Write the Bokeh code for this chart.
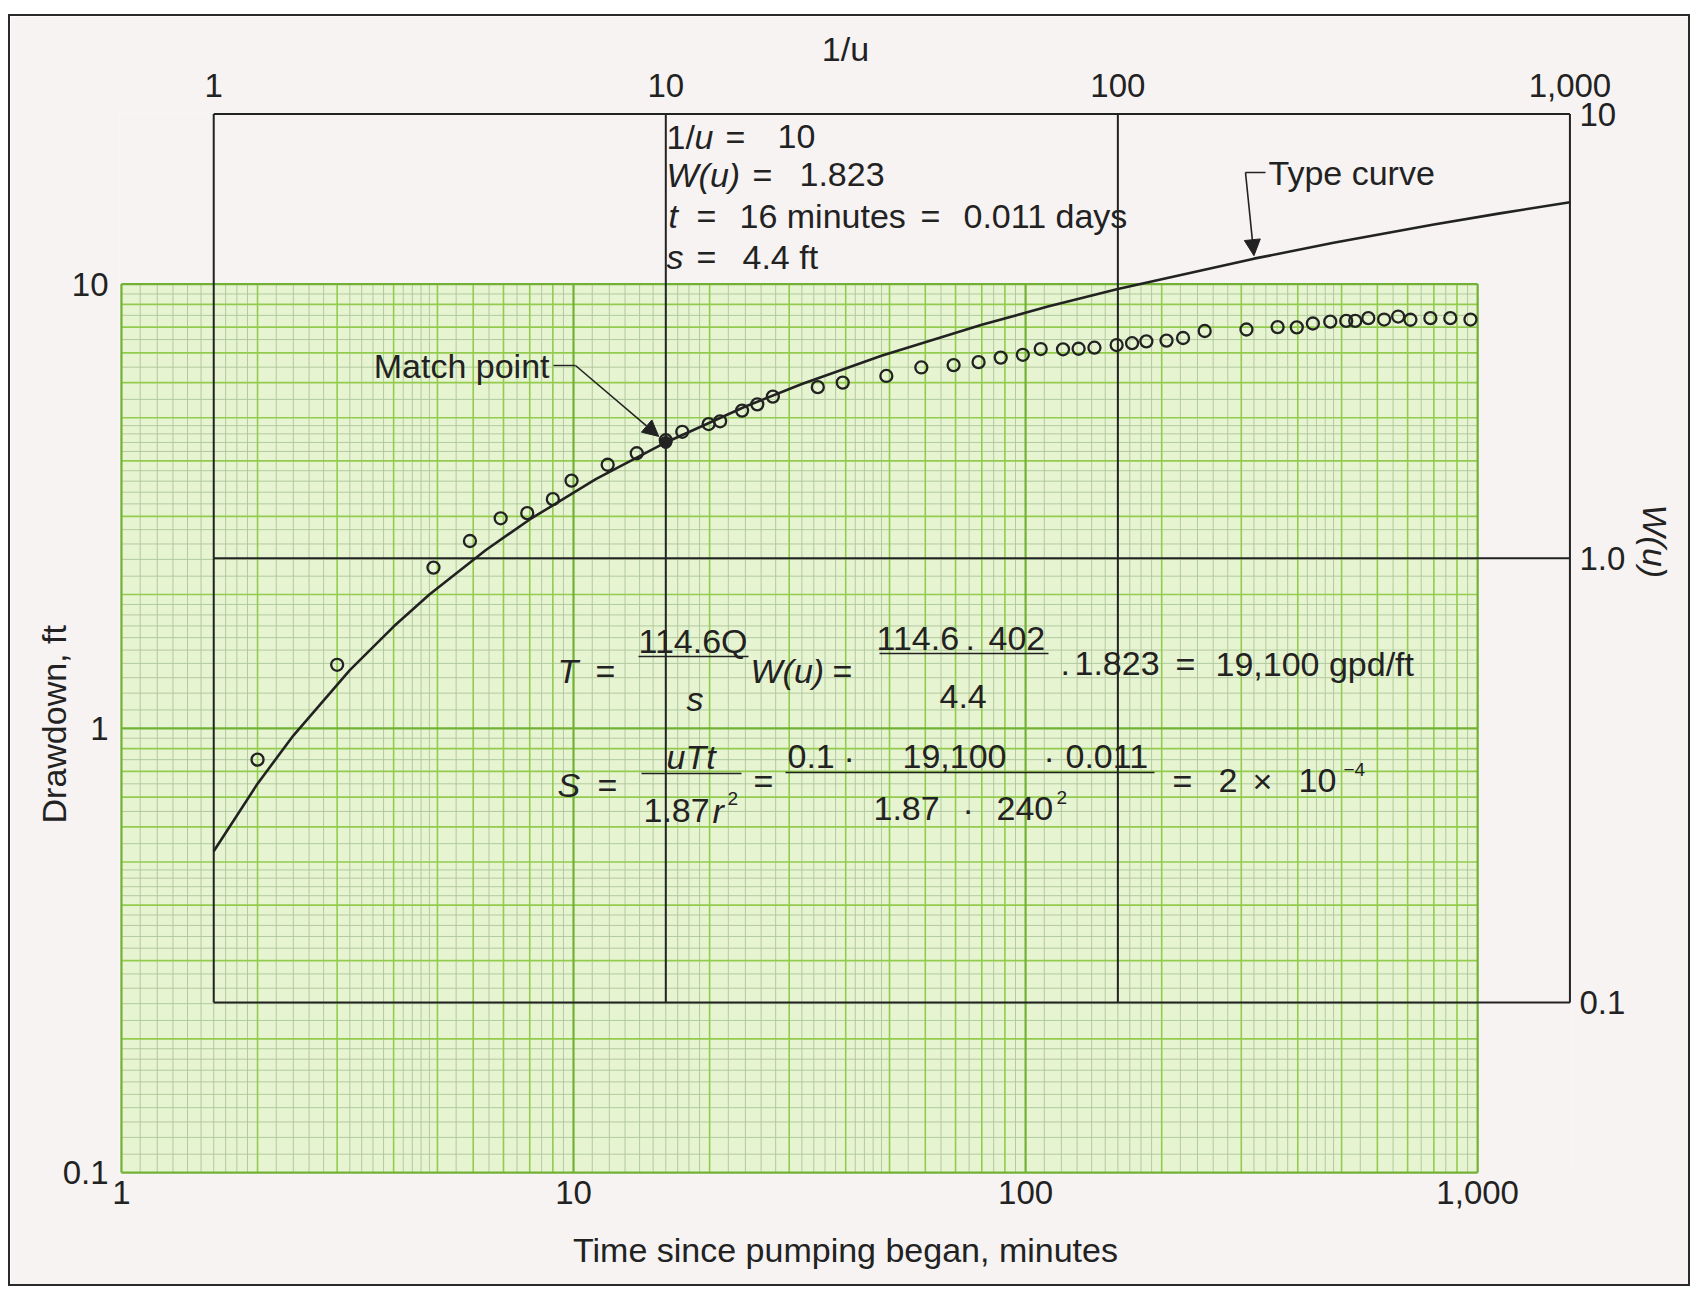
import math
from bokeh.plotting import figure
from bokeh.models import (Range1d, LogScale, LogAxis, FixedTicker, Arrow, NormalHead,
                          CustomJSTickFormatter, Title)
from bokeh.embed import file_html
from bokeh.resources import INLINE
from bokeh.core.properties import value

# ---------------- data ----------------
# observed drawdown vs time (open circles)
time_min = [2.0, 3.0, 4.9, 5.9, 6.9, 7.9, 9.0, 9.9, 11.9, 13.8,
            16.0, 17.4, 19.9, 21.1, 23.6, 25.5, 27.6,
            34.7, 39.4, 49.2, 58.8, 69.3, 78.7, 88.1, 98.6,
            108, 121, 131, 142, 159, 172, 185, 205, 223,
            249, 308, 361, 398, 432, 472, 512, 536, 573, 621, 667, 710, 786, 870, 964]
drawdown_ft = [0.85, 1.39, 2.30, 2.64, 2.97, 3.05, 3.28, 3.61, 3.92, 4.16,
               4.45, 4.65, 4.84, 4.91, 5.19, 5.36, 5.58,
               5.86, 6.00, 6.21, 6.49, 6.57, 6.67, 6.83, 6.93,
               7.14, 7.13, 7.15, 7.19, 7.29, 7.36, 7.43, 7.46, 7.56,
               7.84, 7.90, 8.00, 7.99, 8.15, 8.23, 8.26, 8.26, 8.38, 8.32, 8.45, 8.31, 8.38, 8.38, 8.32]

# Theis type curve (table of W(u) against 1/u)
inv_u = [1, 1.25, 1.5, 2, 2.5, 3, 4, 5, 7, 10, 15, 20, 30, 50, 70, 100, 200, 300, 500, 700, 1000]
w_u = [0.219, 0.311, 0.399, 0.560, 0.702, 0.829, 1.044, 1.223, 1.507, 1.823, 2.196, 2.468,
       2.857, 3.355, 3.686, 4.038, 4.726, 5.130, 5.639, 5.975, 6.332]

# match point
match_inv_u, match_w = 10, 1.823
match_t, match_s = 16, 4.4

# axes ticks / labels
time_ticks = [1, 10, 100, 1000]
time_labels = ["1", "10", "100", "1,000"]
dd_ticks = [0.1, 1, 10]
dd_labels = ["0.1", "1", "10"]
invu_ticks = [1, 10, 100, 1000]
invu_labels = ["1", "10", "100", "1,000"]
w_ticks = [0.1, 1, 10]
w_labels = ["0.1", "1.0", "10"]

# ---------------- layout ----------------
FONT = "Liberation Sans"
INK = "#222222"
BG = "#f6f3f2"
MARGIN_L, MARGIN_T, BORDER = 8, 14, 2
W_FIG, H_FIG = 1682, 1272
B_L, B_R, B_T, B_B = 109, 121, 96, 114
PX_OFF = MARGIN_L + BORDER
PY_OFF = MARGIN_T + BORDER
TXT = 34

RT = match_t / match_inv_u     # t per 1/u
RS = match_s / match_w         # s per W

x_lo, x_hi = time_ticks[0] / 1.01, invu_ticks[-1] * RT * 1.008
y_lo, y_hi = dd_ticks[0] / 1.01, w_ticks[-1] * RS * 1.008

p = figure(width=W_FIG, height=H_FIG, x_axis_type="log", y_axis_type="log",
           x_range=Range1d(x_lo, x_hi), y_range=Range1d(y_lo, y_hi),
           output_backend="svg", toolbar_location=None,
           min_border_left=B_L, min_border_right=B_R, min_border_top=B_T, min_border_bottom=B_B,
           background_fill_color=BG, border_fill_color=BG, outline_line_color=None)
p.styles = {"border": f"{BORDER}px solid #2a2a2a",
            "margin-left": f"{MARGIN_L}px", "margin-top": f"{MARGIN_T}px"}
p.extra_x_ranges = {"invu": Range1d(x_lo / RT, x_hi / RT)}
p.extra_y_ranges = {"w": Range1d(y_lo / RS, y_hi / RS)}
p.extra_x_scales = {"invu": LogScale()}
p.extra_y_scales = {"w": LogScale()}
p.grid.visible = False


def fmt(tick_vals, tick_labels):
    return CustomJSTickFormatter(args=dict(tv=tick_vals, tl=tick_labels), code="""
        for (let i = 0; i < tv.length; i++) {
            if (Math.abs(Math.log10(tv[i]) - Math.log10(tick)) < 1e-6) return tl[i];
        }
        return "";
    """)


def style_axis(ax, tick_vals, tick_labels, standoff, label_standoff):
    ax.ticker = FixedTicker(ticks=tick_vals, minor_ticks=[])
    ax.formatter = fmt(tick_vals, tick_labels)
    ax.axis_line_color = None
    ax.major_tick_line_color = None
    ax.minor_tick_line_color = None
    ax.major_tick_in = 0
    ax.major_tick_out = 0
    ax.major_label_standoff = standoff
    ax.major_label_text_font = FONT
    ax.major_label_text_font_size = "33px"
    ax.major_label_text_color = INK
    ax.axis_label_text_font = FONT
    ax.axis_label_text_font_size = f"{TXT}px"
    ax.axis_label_text_font_style = "normal"
    ax.axis_label_text_color = INK
    ax.axis_label_standoff = label_standoff


xb = p.xaxis[0]
xb.axis_label = "Time since pumping began, minutes"
style_axis(xb, time_ticks, time_labels, 6, 24)

yl = p.yaxis[0]
style_axis(yl, dd_ticks, dd_labels, 11, 0)

xt = LogAxis(x_range_name="invu", axis_label="1/u")
style_axis(xt, invu_ticks, invu_labels, 16, 3)
p.add_layout(xt, "above")

yr = LogAxis(y_range_name="w")
style_axis(yr, w_ticks, w_labels, 8, 0)
p.add_layout(yr, "right")

# side titles for the vertical axes, placed where the original puts them
FRAME_TOP = PY_OFF + B_T
FRAME_BOTTOM = PY_OFF + H_FIG - B_B
p.add_layout(Title(text="Drawdown, ft", align="left", offset=FRAME_BOTTOM - 823,
                   standoff=-26, text_font=FONT, text_font_size=f"{TXT}px",
                   text_font_style="normal", text_color=INK), "left")
p.add_layout(Title(text="W(u)", align="left", offset=504 - FRAME_TOP,
                   standoff=14, text_font=FONT, text_font_size=f"{TXT}px",
                   text_font_style="italic", text_color=INK), "right")

# ---------------- pixel helpers for annotation placement ----------------
fx_span = math.log10(x_hi) - math.log10(x_lo)
fy_span = math.log10(y_hi) - math.log10(y_lo)
FW = W_FIG - B_L - B_R
FH = H_FIG - B_T - B_B


def at(px, py):
    fx = (px - PX_OFF - B_L) / FW
    fy = (py - PY_OFF - B_T) / FH
    return (10 ** (math.log10(x_lo) + fx * fx_span), 10 ** (math.log10(y_hi) - fy * fy_span))


def to_px(x, y):
    px = PX_OFF + B_L + (math.log10(x) - math.log10(x_lo)) / fx_span * FW
    py = PY_OFF + B_T + (math.log10(y_hi) - math.log10(y)) / fy_span * FH
    return px, py


# ---------------- log-log graph paper ----------------
def paper_values(e_lo, e_hi):
    major, mid, fine = [], [], []
    for e in range(e_lo, e_hi):
        b = 10.0 ** e
        major.append(b)
        mid.extend(k * b for k in range(2, 10))
        fine.extend((1 + 0.1 * i) * b for i in range(1, 10))
        fine.extend((2 + 0.2 * i) * b for i in range(1, 15) if i % 5)
        fine.extend((5 + 0.5 * i) * b for i in range(1, 10) if i % 2)
    major.append(10.0 ** e_hi)
    return major, mid, fine


px0, px1 = time_ticks[0], time_ticks[-1]
py0, py1 = dd_ticks[0], dd_ticks[-1]
p.quad(left=px0, right=px1, bottom=py0, top=py1, fill_color="#e7f4d1", line_color=None)

xmaj, xmid, xfine = paper_values(0, 3)
ymaj, ymid, yfine = paper_values(-1, 1)
for vals_x, vals_y, col, lw in [(xfine, yfine, "#adc59a", 0.9),
                                (xmid, ymid, "#92cb4e", 1.6),
                                (xmaj, ymaj, "#72b136", 2.2)]:
    p.segment(x0=vals_x, x1=vals_x, y0=[py0] * len(vals_x), y1=[py1] * len(vals_x),
              line_color=col, line_width=lw)
    p.segment(x0=[px0] * len(vals_y), x1=[px1] * len(vals_y), y0=vals_y, y1=vals_y,
              line_color=col, line_width=lw)

# ---------------- type-curve overlay (in 1/u, W coordinates) ----------------
ov = dict(x_range_name="invu", y_range_name="w", line_color=INK, line_width=2)
p.segment(x0=[invu_ticks[0]] * 3, x1=[invu_ticks[-1]] * 3, y0=w_ticks, y1=w_ticks, **ov)
p.segment(x0=invu_ticks, x1=invu_ticks, y0=[w_ticks[0]] * 4, y1=[w_ticks[-1]] * 4, **ov)
p.line(x=inv_u, y=w_u, x_range_name="invu", y_range_name="w", line_color=INK, line_width=2.6)

# ---------------- observations ----------------
p.scatter(time_min, drawdown_ft, marker="circle", size=12, fill_color=None,
          line_color=INK, line_width=2.3)
p.scatter([match_t], [match_s], marker="circle", size=12, fill_color=INK, line_color=INK)


# ---------------- annotations ----------------
def txt(px, py, s, italic=False, size=TXT, align="left"):
    x, y = at(px, py)
    p.text(x=[x], y=[y], text=[s], text_font=value(FONT), text_font_size=value(f"{size}px"),
           text_font_style="italic" if italic else "normal", text_color=INK,
           text_align=align, text_baseline="middle")


def hline(pxa, pxb, py, lw=1.6):
    x0, y0 = at(pxa, py)
    x1, _ = at(pxb, py)
    p.segment(x0=[x0], x1=[x1], y0=[y0], y1=[y0], line_color=INK, line_width=lw)


def arrow(pa, pb):
    xs, ys = at(*pa)
    xe, ye = at(*pb)
    p.add_layout(Arrow(end=NormalHead(size=16, fill_color=INK, line_color=INK),
                       x_start=xs, y_start=ys, x_end=xe, y_end=ye,
                       line_color=INK, line_width=1.6))


# match-point block
txt(666, 136, "1/"); txt(694, 136, "u", italic=True); txt(725, 136, "="); txt(777, 136, "10")
txt(666, 174, "W(u)", italic=True); txt(752, 174, "="); txt(799, 174, "1.823")
txt(668, 215, "t", italic=True); txt(696, 215, "="); txt(739, 215, "16 minutes")
txt(920, 215, "="); txt(963, 215, "0.011 days")
txt(666, 256, "s", italic=True); txt(696, 256, "="); txt(742, 256, "4.4 ft")

# Type curve label + leader
txt(1268, 172, "Type curve")
hline(1245, 1265, 172, lw=1.4)
cx, cy = to_px(inv_u[16] * RT, w_u[16] * RS)
arrow((1245, 172), (cx, cy - 3))

# Match point label + leader
txt(549, 365, "Match point", align="right")
hline(553, 575, 365, lw=1.4)
mx, my = to_px(match_t, match_s)
arrow((575, 365), (mx - 7, my - 6))

# T equation
txt(557, 670, "T", italic=True); txt(595, 670, "=")
txt(638, 640, "114.6Q"); hline(638, 748, 656)
txt(686, 698, "s", italic=True)
txt(750, 670, "W(u)", italic=True); txt(832, 670, "=")
txt(876, 638, "114.6"); txt(965, 638, "."); txt(988, 638, "402"); hline(879, 1048, 653)
txt(939, 696, "4.4")
txt(1060, 663, "."); txt(1074, 663, "1.823"); txt(1175, 663, "="); txt(1215, 663, "19,100 gpd/ft")

# S equation
txt(557, 784, "S", italic=True); txt(597, 784, "=")
txt(666, 756, "uTt", italic=True); hline(641, 741, 773)
txt(643, 810, "1.87"); txt(712, 810, "r", italic=True); txt(727, 798, "2", size=19)
txt(753, 780, "=")
txt(787, 756, "0.1"); txt(843, 756, "·"); txt(902, 756, "19,100"); txt(1043, 756, "·")
txt(1065, 756, "0.011"); hline(785, 1154, 772)
txt(873, 808, "1.87"); txt(962, 808, "·"); txt(996, 808, "240"); txt(1056, 797, "2", size=19)
txt(1172, 780, "="); txt(1218, 780, "2"); txt(1252, 780, "×"); txt(1298, 780, "10")
txt(1343, 769, "−4", size=19)

open("out.html", "w").write(file_html(p, INLINE))
